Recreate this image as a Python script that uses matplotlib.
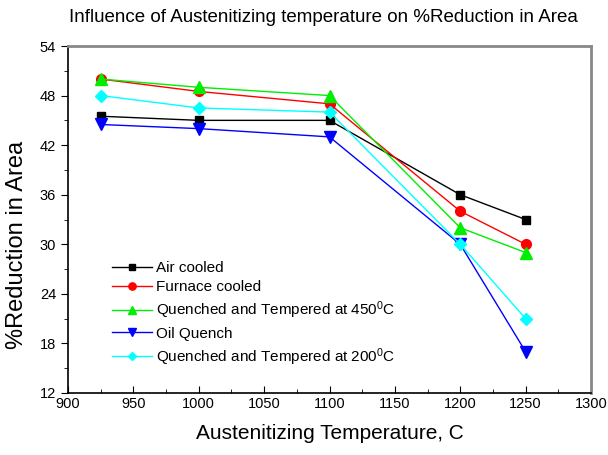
import matplotlib
matplotlib.use("Agg")
import matplotlib.pyplot as plt
from matplotlib.ticker import MultipleLocator

plt.rcParams['font.family'] = ['Liberation Sans', 'DejaVu Sans']
plt.rcParams['mathtext.fontset'] = 'custom'
plt.rcParams['mathtext.rm'] = 'Liberation Sans'
plt.rcParams['mathtext.default'] = 'regular'

# data
temps = [925, 1000, 1100, 1200, 1250]
air_cooled = [45.5, 45, 45, 36, 33]
furnace_cooled = [50, 48.5, 47, 34, 30]
qt_450 = [50, 49, 48, 32, 29]
oil_quench = [44.5, 44, 43, 30, 17]
qt_200 = [48, 46.5, 46, 30, 21]

fig = plt.figure(figsize=(6.08, 4.55), dpi=100)
ax = fig.add_axes([68/608, 1 - 393/455, (591-68)/608, (393-46)/455])

ax.plot(temps, air_cooled, color='black', lw=1, marker='s', ms=6, label='Air cooled')
ax.plot(temps, furnace_cooled, color='red', lw=1, marker='o', ms=7, label='Furnace cooled')
ax.plot(temps, qt_450, color='#00ee00', lw=1, marker='^', ms=8,
        label='Quenched and Tempered at 450$^0$C')
ax.plot(temps, oil_quench, color='blue', lw=1, marker='v', ms=8, label='Oil Quench')
ax.plot(temps, qt_200, color='cyan', lw=1, marker='D', ms=6,
        label='Quenched and Tempered at 200$^0$C')

ax.set_xlim(900, 1300)
ax.set_ylim(12, 54)
ax.xaxis.set_major_locator(MultipleLocator(50))
ax.xaxis.set_minor_locator(MultipleLocator(25))
ax.yaxis.set_major_locator(MultipleLocator(6))
ax.yaxis.set_minor_locator(MultipleLocator(3))
ax.tick_params(axis='x', which='both', direction='in', labelsize=10.5, pad=3)
ax.tick_params(axis='y', which='both', direction='out', labelsize=10.5)
ax.tick_params(which='major', length=5)
ax.tick_params(which='minor', length=3)

for s in ['top', 'right']:
    ax.spines[s].set_color('#888888')
    ax.spines[s].set_linewidth(2)
for s in ['left', 'bottom']:
    ax.spines[s].set_linewidth(1.2)

ax.set_xlabel('Austenitizing Temperature, C', fontsize=15, labelpad=9)
ax.set_ylabel('%Reduction in Area', fontsize=17)
ax.yaxis.set_label_coords(-0.077, 0.427)
fig.text(0.532, 0.962, 'Influence of Austenitizing temperature on %Reduction in Area',
         ha='center', va='center', fontsize=13.5)

ax.legend(loc='upper left', bbox_to_anchor=(0.058, 0.42), frameon=False,
          fontsize=11, labelspacing=0.35, handlelength=2.6, handletextpad=0.25,
          markerscale=0.75)

fig.savefig('out.png', dpi=100)
